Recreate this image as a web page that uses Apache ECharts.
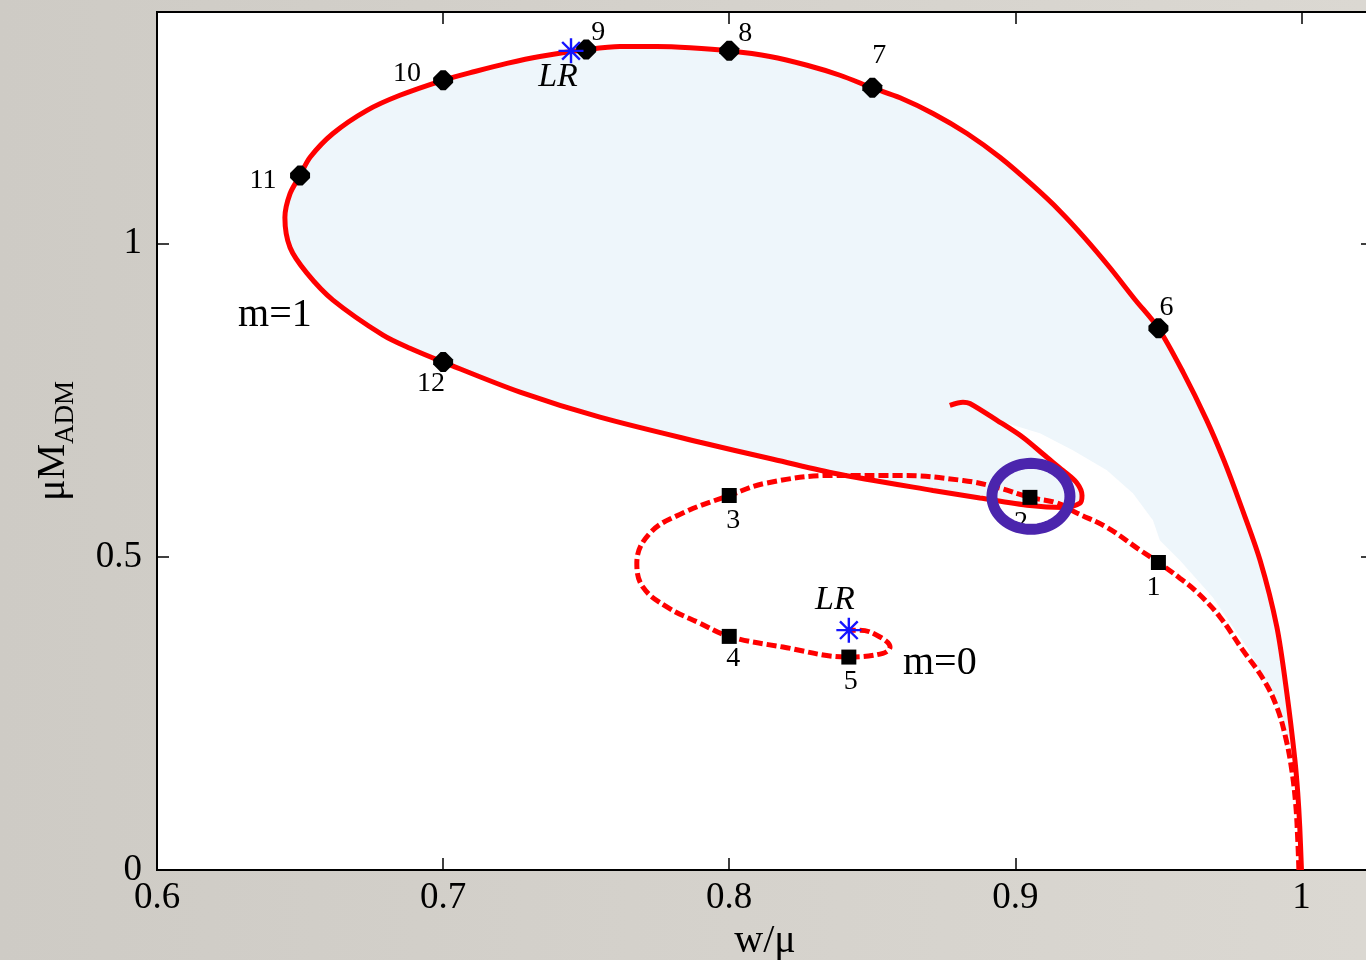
<!DOCTYPE html>
<html>
<head>
<meta charset="utf-8">
<script src="https://cdn.jsdelivr.net/npm/echarts@6/dist/echarts.min.js"></script>
<style>
  html, body { margin: 0; padding: 0; background: #d5d2cc; overflow: hidden; }
  #chart { width: 1366px; height: 960px; }
</style>
</head>
<body>
<div id="chart"></div>
<script>
// ---- axis ticks ----
const xTickValues = [0.6, 0.7, 0.8, 0.9, 1.0];
const xTickLabels = ['0.6', '0.7', '0.8', '0.9', '1'];
const yTickValues = [0, 0.5, 1];
const yTickLabels = ['0', '0.5', '1'];

// ---- m=1 branch (solid): frequency w/mu and mass mu*M_ADM ----
const m1W = [1.000, 0.9994, 0.9987, 0.9977, 0.9949, 0.9914, 0.9855, 0.9785, 0.9729, 0.9669,
             0.9586, 0.95, 0.9418, 0.9330, 0.9243, 0.9156, 0.9061, 0.8946, 0.8831, 0.8712,
             0.8597, 0.85, 0.8387, 0.8272, 0.8142, 0.80, 0.7863, 0.7747, 0.7618, 0.75,
             0.7338, 0.7223, 0.7111, 0.70, 0.6849, 0.6734, 0.6615, 0.6535, 0.65, 0.6465,
             0.6447, 0.6465, 0.6524, 0.6615, 0.6790, 0.6884, 0.70, 0.7269, 0.7548, 0.7898,
             0.8142, 0.8362, 0.8712, 0.8876, 0.9051, 0.9166, 0.9226, 0.9233, 0.9215, 0.9166,
             0.9110, 0.9026, 0.8936, 0.8841, 0.8817, 0.8771];
const m1M = [0, 0.069, 0.123, 0.176, 0.282, 0.388, 0.495, 0.586, 0.654, 0.718,
             0.795, 0.865, 0.911, 0.962, 1.009, 1.052, 1.093, 1.138, 1.176, 1.208,
             1.233, 1.249, 1.269, 1.285, 1.299, 1.308, 1.313, 1.315, 1.315, 1.310,
             1.299, 1.288, 1.275, 1.261, 1.237, 1.213, 1.176, 1.138, 1.109, 1.080,
             1.042, 0.994, 0.953, 0.910, 0.854, 0.833, 0.811, 0.763, 0.723, 0.683,
             0.657, 0.634, 0.606, 0.594, 0.582, 0.579, 0.586, 0.598, 0.618, 0.638,
             0.659, 0.691, 0.718, 0.745, 0.747, 0.742];

// ---- m=0 branch (dashed) ----
const m0W = [0.9991, 0.9987, 0.9980, 0.9966, 0.9945, 0.9914, 0.9869, 0.9795, 0.9715, 0.9634,
             0.9575, 0.95, 0.9435, 0.9320, 0.9215, 0.9145, 0.9051, 0.8936, 0.8817, 0.8597,
             0.8362, 0.8132, 0.80, 0.7838, 0.7723, 0.7677, 0.7698, 0.7782, 0.7898, 0.80,
             0.8188, 0.8418, 0.8537, 0.8562, 0.8527, 0.8457, 0.8418];
const m0M = [0, 0.048, 0.104, 0.160, 0.211, 0.260, 0.303, 0.351, 0.404, 0.444,
             0.466, 0.491, 0.511, 0.547, 0.570, 0.586, 0.595, 0.611, 0.622, 0.630,
             0.630, 0.618, 0.598, 0.570, 0.538, 0.490, 0.452, 0.420, 0.394, 0.373,
             0.356, 0.340, 0.346, 0.356, 0.372, 0.383, 0.383];

// ---- numbered solutions ----
const m1PointW = [0.95, 0.85, 0.80, 0.75, 0.70, 0.65, 0.70];
const m1PointM = [0.865, 1.249, 1.308, 1.310, 1.261, 1.109, 0.811];
const m1PointLabels = ['6', '7', '8', '9', '10', '11', '12'];
const m0PointW = [0.95, 0.9051, 0.80, 0.80, 0.8418];
const m0PointM = [0.491, 0.595, 0.598, 0.373, 0.340];
const m0PointLabels = ['1', '2', '3', '4', '5'];

// ---- light-ring points ----
const lrW = [0.7447, 0.8418];
const lrM = [1.308, 0.383];
const lrLabels = ['LR', 'LR'];

// ---- shaded region: the m=1 branch (indices 2..61) closed by this lower edge ----
const shadeEdgeW = [0.8970, 0.9086, 0.9201, 0.9320, 0.9411, 0.9481, 0.9505, 0.9575, 0.9690, 0.9809, 0.9900, 0.9959, 0.9980];
const shadeEdgeM = [0.7133, 0.6973, 0.6702, 0.6383, 0.6016, 0.5585, 0.5266, 0.4947, 0.4356, 0.3558, 0.2824, 0.2074, 0.1516];

// ---- branch names ----
const branchNames = ['m=1', 'm=0'];
const branchNameW = [0.6412, 0.8736];
const branchNameM = [0.886, 0.329];

// solution circled on the m=0 branch
const circledIndex = 1;

// ---------------- styling ----------------
const SERIF = '"Liberation Serif", "Times New Roman", serif';
const RED = '#ff0000';
const m1LabelOffsets = [[8, -21], [7, -32], [16, -17], [12, -17], [-36, -7], [-37, 5], [-12, 22]];
const m0LabelOffsets = [[-5, 25], [-9, 25], [4, 25], [4, 22], [2, 25]];
const lrLabelOffsets = [[-13, 26], [-14, -30]];

const zip = (a, b) => a.map((v, i) => [v, b[i]]);
const tickFormatter = (vals, labels) => v => {
  const i = vals.findIndex(t => Math.abs(t - v) < 1e-6);
  return i >= 0 ? labels[i] : '';
};

const shadeW = m1W.slice(2, 62).concat(shadeEdgeW);
const shadeM = m1M.slice(2, 62).concat(shadeEdgeM);

const diamond = 'path://M-2.5,-10L2.5,-10L10,-2.5L10,2.5L2.5,10L-2.5,10L-10,2.5L-10,-2.5Z';
const asterisk = 'path://M0,12L24,12M12,0L12,24M3.5,3.5L20.5,20.5M20.5,3.5L3.5,20.5';

const chart = echarts.init(document.getElementById('chart'), null, { renderer: 'canvas', width: 1366, height: 960 });

const axisBase = {
  type: 'value',
  splitLine: { show: false },
  axisLine: { show: true, onZero: false, lineStyle: { color: '#000', width: 2 } },
  axisTick: { show: true, inside: true, length: 12, lineStyle: { color: '#000', width: 1.5 } }
};

chart.setOption({
  animation: false,
  backgroundColor: {
    type: 'linear', x: 0, y: 0, x2: 1, y2: 0,
    colorStops: [{ offset: 0, color: '#cecbc5' }, { offset: 1, color: '#dbd8d2' }]
  },
  grid: {
    left: 157, right: -7, top: 12, bottom: 90,
    outerBoundsMode: 'none',
    containLabel: false,
    show: true, backgroundColor: '#ffffff', borderColor: '#000', borderWidth: 2
  },
  xAxis: [
    Object.assign({}, axisBase, {
      min: 0.6, max: 1.025, interval: 0.1, position: 'bottom',
      name: 'w/μ', nameLocation: 'middle', nameGap: 50,
      nameTextStyle: { fontFamily: SERIF, fontSize: 40, color: '#000' },
      axisLabel: {
        show: true, margin: 10, color: '#000', fontFamily: SERIF, fontSize: 37,
        formatter: tickFormatter(xTickValues, xTickLabels)
      }
    }),
    Object.assign({}, axisBase, {
      min: 0.6, max: 1.025, interval: 0.1, position: 'top',
      axisLabel: { show: false }
    })
  ],
  yAxis: [
    Object.assign({}, axisBase, {
      min: 0, max: 1.37, interval: 0.5, position: 'left',
      name: '{m|μM}{s|ADM}', nameLocation: 'middle', nameGap: 78,
      nameTextStyle: {
        color: '#000',
        rich: {
          m: { fontFamily: SERIF, fontSize: 40, color: '#000', verticalAlign: 'bottom', padding: [0, 0, 6, 0] },
          s: { fontFamily: SERIF, fontSize: 27, color: '#000', verticalAlign: 'bottom' }
        }
      },
      axisLabel: {
        show: true, margin: 15, color: '#000', fontFamily: SERIF, fontSize: 37,
        formatter: tickFormatter(yTickValues, yTickLabels)
      }
    }),
    Object.assign({}, axisBase, {
      min: 0, max: 1.37, interval: 0.5, position: 'right',
      axisLabel: { show: false }
    })
  ],
  series: [
    {
      // pale shaded region bounded by the m=1 branch
      type: 'custom',
      coordinateSystem: 'cartesian2d',
      silent: true,
      z: 1,
      data: [[shadeW[0], shadeM[0]]],
      renderItem: (params, api) => ({
        type: 'polygon',
        shape: { points: shadeW.map((w, i) => api.coord([w, shadeM[i]])) },
        style: { fill: '#eef6fb', stroke: null }
      })
    },
    {
      name: 'm=1',
      type: 'line',
      data: zip(m1W, m1M),
      showSymbol: false,
      smooth: 0.3,
      z: 3,
      lineStyle: { color: RED, width: 5 }
    },
    {
      name: 'm=0',
      type: 'line',
      data: zip(m0W, m0M),
      showSymbol: false,
      smooth: 0.4,
      z: 4,
      lineStyle: { color: RED, width: 5, type: [10, 4] }
    },
    {
      type: 'scatter',
      z: 5,
      symbol: diamond,
      symbolSize: 20,
      itemStyle: { color: '#000', opacity: 1 },
      data: m1PointW.map((w, i) => ({
        name: m1PointLabels[i],
        value: [w, m1PointM[i]],
        label: { offset: m1LabelOffsets[i] }
      })),
      label: {
        show: true, position: 'inside', formatter: '{b}',
        color: '#000', fontFamily: SERIF, fontSize: 28
      }
    },
    {
      type: 'scatter',
      z: 5,
      symbol: 'rect',
      symbolSize: 15,
      itemStyle: { color: '#000', opacity: 1 },
      data: m0PointW.map((w, i) => ({
        name: m0PointLabels[i],
        value: [w, m0PointM[i]],
        label: { offset: m0LabelOffsets[i] }
      })),
      label: {
        show: true, position: 'inside', formatter: '{b}',
        color: '#000', fontFamily: SERIF, fontSize: 28
      }
    },
    {
      // ring drawn around the circled m=0 solution
      type: 'custom',
      coordinateSystem: 'cartesian2d',
      silent: true,
      z: 6,
      data: [[m0PointW[circledIndex], m0PointM[circledIndex]]],
      renderItem: (params, api) => {
        const c = api.coord([api.value(0), api.value(1)]);
        const pts = [];
        for (let k = 0; k < 72; k++) {
          const t = (k / 72) * Math.PI * 2;
          pts.push([c[0] + 1 + 39 * Math.cos(t), c[1] - 1 + 33 * Math.sin(t)]);
        }
        return {
          type: 'polygon',
          shape: { points: pts },
          style: { fill: 'none', stroke: '#4b25ad', lineWidth: 11 }
        };
      }
    },
    {
      type: 'scatter',
      z: 7,
      symbol: asterisk,
      symbolSize: 25,
      itemStyle: { color: 'rgba(0,0,0,0)', borderColor: '#1414ff', borderWidth: 2.4, opacity: 1 },
      data: lrW.map((w, i) => ({
        name: lrLabels[i],
        value: [w, lrM[i]],
        label: { offset: lrLabelOffsets[i] }
      })),
      label: {
        show: true, position: 'inside', formatter: '{b}',
        color: '#000', fontFamily: SERIF, fontStyle: 'italic', fontSize: 34
      }
    },
    {
      type: 'scatter',
      z: 7,
      symbolSize: 1,
      itemStyle: { color: 'rgba(0,0,0,0)', opacity: 1 },
      data: branchNames.map((n, i) => ({ name: n, value: [branchNameW[i], branchNameM[i]] })),
      label: {
        show: true, position: 'inside', formatter: '{b}',
        color: '#000', fontFamily: SERIF, fontSize: 40
      }
    }
  ]
});
</script>
</body>
</html>
